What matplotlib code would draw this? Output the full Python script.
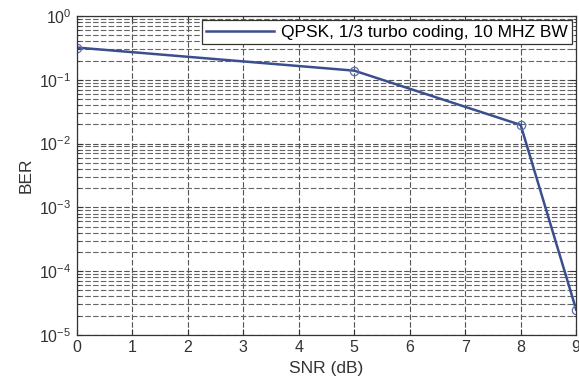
import matplotlib
matplotlib.use("Agg")
import matplotlib.pyplot as plt
from matplotlib.ticker import LogLocator, NullFormatter

snr_db = [0, 5, 8, 9]
ber = [0.32, 0.139, 0.0196, 2.5e-5]
series_label = "QPSK, 1/3 turbo coding, 10 MHZ BW"
x_ticks = list(range(0, 10))

plt.rcParams['font.family'] = ['Liberation Sans', 'DejaVu Sans']

fig = plt.figure(figsize=(5.79, 3.81), dpi=100)
ax = fig.add_axes([0.133, 0.121, 0.862, 0.837])

ax.semilogy(snr_db, ber, color='#3b4f8e', lw=1.8, marker='o', ms=6,
            mfc='none', mec='#5a6fb0', mew=0.9, label=series_label)

ax.set_xlim(0, 9)
ax.set_ylim(1e-5, 1e0)
ax.set_xticks(x_ticks)
ax.yaxis.set_major_locator(LogLocator(base=10, numticks=10))
ax.yaxis.set_minor_locator(LogLocator(base=10, subs=range(2, 10), numticks=20))
ax.yaxis.set_minor_formatter(NullFormatter())

ax.grid(True, which='major', ls=(0, (5, 2)), color='#555555', lw=0.8)
ax.grid(True, which='minor', axis='y', ls=(0, (5, 2)), color='#666666', lw=0.8)

ax.tick_params(which='both', direction='in', top=True, right=True, labelsize=11.5, colors='#333333')
ax.tick_params(which='major', length=4, pad=4)
ax.tick_params(which='minor', length=2)
for sp in ax.spines.values():
    sp.set_color('#333333')
    sp.set_linewidth(0.9)

ax.set_xlabel('SNR (dB)', fontsize=12.5, color='#333333', labelpad=4)
ax.set_ylabel('BER', fontsize=12.5, color='#333333', labelpad=4)

leg = ax.legend(loc='upper right', fontsize=12.5, fancybox=False, framealpha=1,
                edgecolor='#333333', borderaxespad=0.25, handlelength=3.9,
                borderpad=0.25, handletextpad=0.4)
leg.get_frame().set_linewidth(0.9)
leg.legend_handles[0].set_marker('')

fig.savefig('out.png', dpi=100)
